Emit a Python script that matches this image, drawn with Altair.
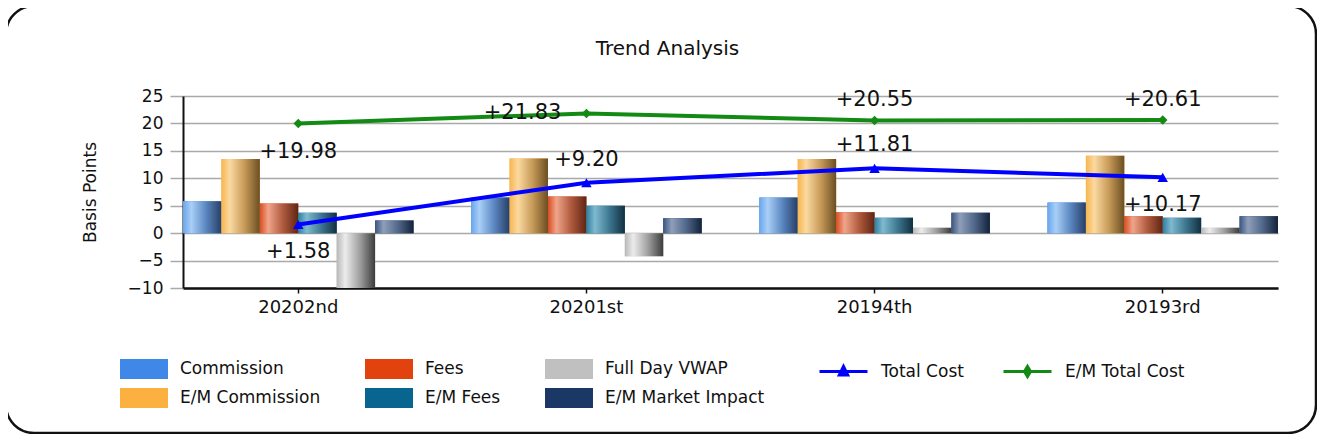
import altair as alt
import pandas as pd

# ---------------- data ----------------
periods = ["20202nd", "20201st", "20194th", "20193rd"]
commission = [5.8, 6.5, 6.5, 5.6]
em_commission = [13.5, 13.6, 13.5, 14.1]
fees = [5.4, 6.7, 3.8, 3.1]
em_fees = [3.7, 5.0, 2.8, 2.8]
full_day_vwap = [-10.0, -4.2, 1.0, 1.0]
em_market_impact = [2.3, 2.7, 3.7, 3.1]
total_cost = [1.58, 9.20, 11.81, 10.17]
em_total_cost = [19.98, 21.83, 20.55, 20.61]

bar_series = ["Commission", "E/M Commission", "Fees", "E/M Fees",
              "Full Day VWAP", "E/M Market Impact"]
bar_values = [commission, em_commission, fees, em_fees, full_day_vwap, em_market_impact]
bar_colors = ["#3f88e8", "#fbb040", "#e2420d", "#07658f", "#c0c0c0", "#1b3766"]
y_ticks = [-10, -5, 0, 5, 10, 15, 20, 25]

gradients = {
    "Commission": ["#6aa5ec", "#a9cff7", "#5b86c0", "#263f66"],
    "E/M Commission": ["#f7b64f", "#fbd9a0", "#c79a58", "#6b4e22"],
    "Fees": ["#d94e22", "#f0a58a", "#b05a3e", "#5e2515"],
    "E/M Fees": ["#2f7fa0", "#7fbad0", "#3d7690", "#12303f"],
    "Full Day VWAP": ["#b8b8b8", "#ececec", "#a0a0a0", "#3c3c3c"],
    "E/M Market Impact": ["#3c5580", "#8e9fba", "#51678a", "#14223a"],
}

bars_df = pd.DataFrame([
    {"period": p, "series": s, "value": v}
    for s, vals in zip(bar_series, bar_values)
    for p, v in zip(periods, vals)
])
lines_df = pd.DataFrame(
    [{"period": p, "series": "Total Cost", "value": v} for p, v in zip(periods, total_cost)]
    + [{"period": p, "series": "E/M Total Cost", "value": v} for p, v in zip(periods, em_total_cost)]
)

FONT = "DejaVu Sans"
TXT = "#111"
RECT_PATH = "M-2.4,-1H2.4V1H-2.4Z"
TRI_PATH = "M-2.4,0H2.4M0,-0.5L0.42,0.35L-0.42,0.35Z"
DIA_PATH = "M-2.4,0H2.4M0,-0.5L0.3,0L0,0.5L-0.3,0Z"


def x_enc():
    return alt.X(
        "period:N", sort=periods,
        scale=alt.Scale(paddingInner=0.2, paddingOuter=0),
        axis=alt.Axis(title=None, grid=False, domainColor="#111", domainWidth=2.5,
                      tickColor="#111", tickSize=5, tickWidth=1.5, labelAngle=0,
                      labelFont=FONT, labelFontSize=18, labelColor=TXT, labelPadding=5),
    )


def y_enc():
    return alt.Y(
        "value:Q",
        scale=alt.Scale(domain=[-10, 25], nice=False, zero=False),
        axis=alt.Axis(values=y_ticks, grid=True, gridColor="#a9a9a9", gridWidth=1.5,
                      domainColor="#111", domainWidth=2, tickColor="#a9a9a9", tickSize=13,
                      tickWidth=1.5, labelFont=FONT, labelFontSize=17, labelColor=TXT,
                      labelPadding=7, title="Basis Points", titleFont=FONT, titleFontSize=17,
                      titleFontWeight="normal", titleColor=TXT, titleX=-93, titleY=96,
                      titleAngle=270, titleAlign="center", titleBaseline="middle"),
    )


def xoff_enc():
    return alt.XOffset("series:N", sort=bar_series,
                       scale=alt.Scale(domain=bar_series, paddingInner=0, paddingOuter=0))


bars = alt.Chart(bars_df).mark_bar().encode(
    x=x_enc(), xOffset=xoff_enc(), y=y_enc(),
    color=alt.Color("series:N", scale=alt.Scale(domain=bar_series, range=bar_colors),
                    legend=alt.Legend(title=None, orient="none", legendX=-49, legendY=263,
                                      columns=3, columnPadding=44, rowPadding=9,
                                      symbolType=RECT_PATH, symbolSize=400,
                                      symbolStrokeWidth=0, labelOffset=26, padding=0,
                                      labelFont=FONT, labelFontSize=17, labelColor=TXT)),
)

grad_layers = []
for s in bar_series:
    c = gradients[s]
    grad = alt.LinearGradient(
        gradient="linear", x1=0, x2=1, y1=0, y2=0,
        stops=[alt.GradientStop(offset=0, color=c[0]),
               alt.GradientStop(offset=0.22, color=c[1]),
               alt.GradientStop(offset=0.6, color=c[2]),
               alt.GradientStop(offset=1, color=c[3])])
    grad_layers.append(
        alt.Chart(bars_df).transform_filter(alt.datum.series == s)
        .mark_bar(color=grad)
        .encode(x=x_enc(), xOffset=xoff_enc(), y=y_enc())
    )


def series_layers(name, color, path, lx, shape, psize, label_specs):
    base = alt.Chart(lines_df).transform_filter(alt.datum.series == name)
    line = base.mark_line(strokeWidth=4).encode(
        x=x_enc(), y=y_enc(),
        color=alt.Color("series:N", scale=alt.Scale(domain=[name], range=[color]),
                        legend=alt.Legend(title=None, orient="none", legendX=lx, legendY=264,
                                          symbolType=path, symbolSize=400,
                                          symbolStrokeWidth=3, symbolFillColor=color,
                                          labelOffset=26, padding=0, labelFont=FONT,
                                          labelFontSize=17, labelColor=TXT)),
    )
    pts = base.mark_point(shape=shape, filled=True, size=psize, color=color, opacity=1).encode(
        x=x_enc(), y=y_enc())
    texts = []
    for cats, kw in label_specs:
        texts.append(
            base.transform_filter(alt.FieldOneOfPredicate(field="period", oneOf=cats))
            .mark_text(font=FONT, fontSize=21, color="#111", baseline="middle", **kw)
            .encode(x=x_enc(), y=y_enc(), text=alt.Text("value:Q", format="+.2f"))
        )
    return [line, pts] + texts


tc_layers = series_layers(
    "Total Cost", "#0000ff", TRI_PATH, 649, "triangle-up", 110,
    [(["20202nd", "20193rd"], {"dy": 28}),
     (["20201st", "20194th"], {"dy": -23})])
em_layers = series_layers(
    "E/M Total Cost", "#138a13", DIA_PATH, 833, "diamond", 90,
    [(["20202nd"], {"dy": 28}),
     (["20201st"], {"dx": -25, "align": "right"}),
     (["20194th", "20193rd"], {"dy": -20})])

border = alt.Chart(alt.Data(values=[{"k": 1}])).mark_rect(
    cornerRadius=28, fill="transparent", stroke="#111", strokeWidth=2.5, clip=False
).encode(x=alt.value(-177), x2=alt.value(1133), y=alt.value(-90), y2=alt.value(337))

chart = alt.layer(bars, *grad_layers, *tc_layers, *em_layers, border).resolve_scale(
    color="independent"
).properties(
    width=1095, height=192,
    padding={"left": 175, "top": 88, "right": 39, "bottom": 146},
    autosize=alt.AutoSizeParams(type="none"),
    title=alt.TitleParams("Trend Analysis", font=FONT, fontSize=20, fontWeight="normal",
                          anchor="middle", dx=-63, offset=-54, color="#111"),
    background="white",
).configure_view(stroke=None)

chart.save("out.html", embed_options={"renderer": "svg", "actions": False})
